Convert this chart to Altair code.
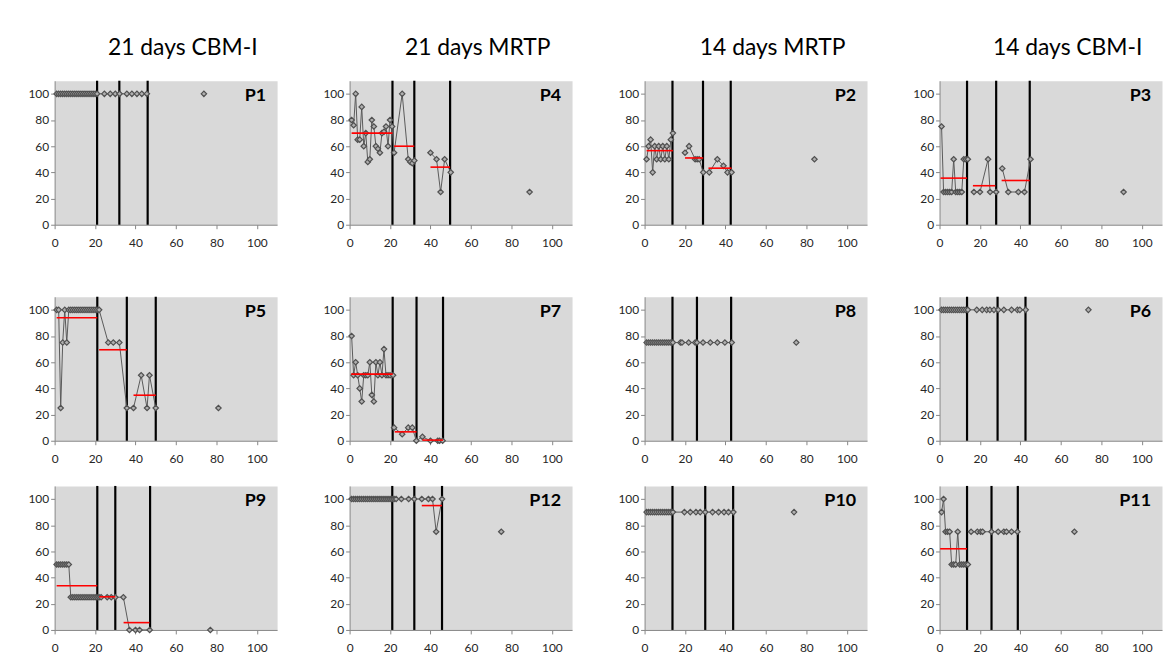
import altair as alt
import pandas as pd

# ---------------- data ----------------
COL_TITLES = ["21 days CBM-I", "21 days MRTP", "14 days MRTP", "14 days CBM-I"]
GRID = [["P1", "P4", "P2", "P3"], ["P5", "P7", "P8", "P6"], ["P9", "P12", "P10", "P11"]]

P1_X = [1, 2, 3, 4, 5, 6, 7, 8, 9, 10, 11, 12, 13, 14, 15, 16, 17, 18, 19, 20, 21,
        24.6, 27.5, 30, 32.1, 35.7, 38.2, 40.7, 43.1, 45.6, 73.8]
P1_Y = [100, 100, 100, 100, 100, 100, 100, 100, 100, 100, 100, 100, 100, 100, 100, 100,
        100, 100, 100, 100, 100, 100, 100, 100, 100, 100, 100, 100, 100, 100, 100]
P1_BREAKS = [30]
P1_VLINES = [21, 32, 46]
P1_MEANS = []

P4_X = [1, 2, 3, 4, 5, 6, 7, 8, 9, 10, 11, 12, 13, 14, 15, 16, 17, 18, 19, 20, 21, 22,
        26, 29, 30, 31, 32, 40, 43, 45, 47, 50, 89]
P4_Y = [80, 76, 100, 65, 65, 90, 60, 70, 48, 50, 80, 75, 60, 58, 55, 70, 71, 75, 60, 80,
        75, 55, 100, 50, 48, 47, 49, 55, 50, 25, 50, 40, 25]
P4_BREAKS = [27, 32]
P4_VLINES = [21.2, 32, 49.7]
P4_MEANS = [(1, 21.2, 70), (22, 32, 60), (40, 49.7, 44)]

P2_X = [1, 2, 3, 4, 5, 6, 7, 8, 9, 10, 11, 12, 13, 14, 20, 22, 25, 26, 27, 29,
        32, 36, 39, 41, 43, 84]
P2_Y = [50, 60, 65, 40, 60, 50, 60, 50, 60, 50, 60, 50, 65, 70, 55, 60, 50, 50, 50, 40,
        40, 50, 45, 40, 40, 50]
P2_BREAKS = [14, 25]
P2_VLINES = [13.8, 28.9, 42.6]
P2_MEANS = [(1, 14, 56.6), (20, 29, 51), (31.6, 43, 43.2)]

P3_X = [1, 2, 3, 4, 5, 6, 7, 8, 9, 10, 11, 12, 13, 14, 17, 20, 24, 25, 28,
        31, 34, 39, 42, 45, 91]
P3_Y = [75, 25, 25, 25, 25, 25, 50, 25, 25, 25, 25, 50, 50, 50, 25, 25, 50, 25, 25,
        43, 25, 25, 25, 50, 25]
P3_BREAKS = [14, 19, 24]
P3_VLINES = [13.6, 28, 44.6]
P3_MEANS = [(0.5, 13.6, 35.6), (16.5, 27.6, 29.8), (30.7, 44.6, 33.8)]

P5_X = [1, 2, 3, 4, 5, 6, 7, 8, 9, 10, 11, 12, 13, 14, 15, 16, 17, 18, 19, 20, 21, 22,
        26.5, 29, 32, 35.7, 39, 42.8, 45.7, 46.9, 50, 81]
P5_Y = [100, 100, 25, 75, 100, 75, 100, 100, 100, 100, 100, 100, 100, 100, 100, 100,
        100, 100, 100, 100, 100, 100, 75, 75, 75, 25, 25, 50, 25, 50, 25, 25]
P5_BREAKS = [31]
P5_VLINES = [21.1, 35.7, 50]
P5_MEANS = [(1, 21.1, 94), (22, 35.7, 69.5), (39, 50, 34.8)]

P7_X = [1, 2, 3, 4, 5, 6, 7, 8, 9, 10, 11, 12, 13, 14, 15, 16, 17, 18, 19, 20, 21.5,
        22, 26, 29, 31, 33, 36, 40, 43.6, 44.5, 46]
P7_Y = [80, 50, 60, 50, 40, 30, 50, 50, 50, 60, 35, 30, 60, 50, 60, 50, 70, 50, 50, 50, 50,
        10, 5, 10, 10, 0, 3, 0, 0, 0, 0]
P7_BREAKS = [21]
P7_VLINES = [21.3, 33.1, 46.2]
P7_MEANS = [(0.8, 21.3, 50.9), (22.3, 33.1, 6.8), (36, 46.2, 0.5)]

P8_X = [1, 2, 3, 4, 5, 6, 7, 8, 9, 10, 11, 12, 13, 14, 17.7, 18.5, 21.8, 25, 25.9,
        28.9, 32.5, 36, 39.7, 43.1, 75]
P8_Y = [75, 75, 75, 75, 75, 75, 75, 75, 75, 75, 75, 75, 75, 75, 75, 75, 75, 75, 75,
        75, 75, 75, 75, 75, 75]
P8_BREAKS = [24]
P8_VLINES = [13.8, 25.9, 42.8]
P8_MEANS = []

P6_X = [1, 2, 3, 4, 5, 6, 7, 8, 9, 10, 11, 12, 13, 14, 18.4, 21.1, 23.3, 24.9, 26.9,
        29, 31.8, 35.6, 38.5, 39.7, 42.6, 73.6]
P6_Y = [100, 100, 100, 100, 100, 100, 100, 100, 100, 100, 100, 100, 100, 100, 100, 100,
        100, 100, 100, 100, 100, 100, 100, 100, 100, 100]
P6_BREAKS = [25]
P6_VLINES = [13.6, 28.7, 42.5]
P6_MEANS = []

P9_X = [1, 2, 3, 4, 5, 6, 7, 8, 9, 10, 11, 12, 13, 14, 15, 16, 17, 18, 19, 20, 21,
        22, 23, 26, 28, 30, 34, 37, 40, 42, 47, 77]
P9_Y = [50, 50, 50, 50, 50, 50, 50, 25, 25, 25, 25, 25, 25, 25, 25, 25, 25, 25, 25, 25, 25,
        25, 25, 25, 25, 25, 25, 0, 0, 0, 0, 0]
P9_BREAKS = [31]
P9_VLINES = [21.1, 30, 47.2]
P9_MEANS = [(1, 21.1, 33.8), (22.1, 30, 25.3), (34.1, 46.9, 5.6)]

P12_X = [1, 2, 3, 4, 5, 6, 7, 8, 9, 10, 11, 12, 13, 14, 15, 16, 17, 18, 19, 20, 21,
         22, 23, 25.6, 29.2, 32, 35.7, 39, 41, 42.8, 45.7, 75]
P12_Y = [100, 100, 100, 100, 100, 100, 100, 100, 100, 100, 100, 100, 100, 100, 100, 100,
         100, 100, 100, 100, 100, 100, 100, 100, 100, 100, 100, 100, 100, 75, 100, 75]
P12_BREAKS = [31]
P12_VLINES = [21.1, 32, 45.7]
P12_MEANS = [(35.7, 45.7, 95)]

P10_X = [1, 2, 3, 4, 5, 6, 7, 8, 9, 10, 11, 12, 13, 14, 19.7, 22.6, 25.4, 27.5, 30,
         33.6, 36.6, 39.3, 41.5, 43.9, 73.9]
P10_Y = [90, 90, 90, 90, 90, 90, 90, 90, 90, 90, 90, 90, 90, 90, 90, 90, 90, 90, 90,
         90, 90, 90, 90, 90, 90]
P10_BREAKS = [24]
P10_VLINES = [13.8, 30, 43.8]
P10_MEANS = []

P11_X = [1, 2, 3, 4, 5, 6, 7, 8, 9, 10, 11, 12, 13, 14, 15.6, 18.7, 20.3, 21.3, 25.7,
         29, 31.8, 33.1, 35.6, 38.5, 66.7]
P11_Y = [90, 100, 75, 75, 75, 50, 50, 50, 75, 50, 50, 50, 50, 50, 75, 75, 75, 75, 75,
         75, 75, 75, 75, 75, 75]
P11_BREAKS = [14, 24]
P11_VLINES = [13.6, 25.7, 38.7]
P11_MEANS = [(0.3, 13.6, 62)]

PANELS = {
    "P1": (P1_X, P1_Y, P1_BREAKS, P1_VLINES, P1_MEANS),
    "P4": (P4_X, P4_Y, P4_BREAKS, P4_VLINES, P4_MEANS),
    "P2": (P2_X, P2_Y, P2_BREAKS, P2_VLINES, P2_MEANS),
    "P3": (P3_X, P3_Y, P3_BREAKS, P3_VLINES, P3_MEANS),
    "P5": (P5_X, P5_Y, P5_BREAKS, P5_VLINES, P5_MEANS),
    "P7": (P7_X, P7_Y, P7_BREAKS, P7_VLINES, P7_MEANS),
    "P8": (P8_X, P8_Y, P8_BREAKS, P8_VLINES, P8_MEANS),
    "P6": (P6_X, P6_Y, P6_BREAKS, P6_VLINES, P6_MEANS),
    "P9": (P9_X, P9_Y, P9_BREAKS, P9_VLINES, P9_MEANS),
    "P12": (P12_X, P12_Y, P12_BREAKS, P12_VLINES, P12_MEANS),
    "P10": (P10_X, P10_Y, P10_BREAKS, P10_VLINES, P10_MEANS),
    "P11": (P11_X, P11_Y, P11_BREAKS, P11_VLINES, P11_MEANS),
}
TICKS = [0, 20, 40, 60, 80, 100]

# ---------------- style ----------------
W, H = 224, 145
FONT = "Lato"
AXIS_GRAY = "#868686"
LABEL_COLOR = "#262626"

XAXIS = alt.Axis(values=TICKS, title=None, grid=False, tickSize=4, labelPadding=9,
                 domainColor=AXIS_GRAY, tickColor=AXIS_GRAY, labelColor=LABEL_COLOR,
                 labelFont=FONT, labelFontSize=12, labelFlush=False,
                 minExtent=30, maxExtent=30)
YAXIS = alt.Axis(values=TICKS, title=None, grid=False, tickSize=4, labelPadding=2,
                 domainColor=AXIS_GRAY, tickColor=AXIS_GRAY, labelColor=LABEL_COLOR,
                 labelFont=FONT, labelFontSize=12, minExtent=30, maxExtent=30)


def xenc(field="x"):
    return alt.X(f"{field}:Q", scale=alt.Scale(domain=[0, 110], nice=False, zero=False), axis=XAXIS)


def yenc(field="y"):
    return alt.Y(f"{field}:Q", scale=alt.Scale(domain=[0, 110], nice=False, zero=False), axis=YAXIS)


def panel(name, title=None):
    xs, ys, breaks, vlines, means = PANELS[name]
    seg, s = [], 0
    for i in range(len(xs)):
        if i in breaks:
            s += 1
        seg.append(s)
    pts = pd.DataFrame({"x": xs, "y": ys, "seg": seg})
    layers = []
    layers.append(
        alt.Chart(pd.DataFrame({"x": vlines})).mark_rule(color="black", strokeWidth=2.2)
        .encode(x=xenc(), y=alt.value(0), y2=alt.value(H))
    )
    layers.append(
        alt.Chart(pts).mark_line(color="#5a5a5a", strokeWidth=1)
        .encode(x=xenc(), y=yenc(), detail="seg:N")
    )
    layers.append(
        alt.Chart(pts).mark_point(shape="diamond", filled=True, size=30, fill="#b0b0b0",
                                  stroke="#505050", strokeWidth=1.2, opacity=1)
        .encode(x=xenc(), y=yenc())
    )
    if means:
        mdf = pd.DataFrame(means, columns=["x", "x2", "y"])
        layers.append(
            alt.Chart(mdf).mark_rule(color="#ff0000", strokeWidth=1.6)
            .encode(x=xenc(), x2="x2:Q", y=yenc())
        )
    layers.append(
        alt.Chart(pd.DataFrame({"t": [name]})).mark_text(
            font=FONT, fontSize=18, fontWeight="bold", align="right",
            baseline="alphabetic", color="black")
        .encode(text="t:N", x=alt.value(W - 11), y=alt.value(20.5))
    )
    if title:
        layers.append(
            alt.Chart(pd.DataFrame({"t": [title]})).mark_text(
                font=FONT, fontSize=23, align="center", baseline="middle", color="black")
            .encode(text="t:N", x=alt.value(W / 2 + 17), y=alt.value(-33))
        )
    return alt.layer(*layers).properties(width=W, height=H)


rows = []
for r, names in enumerate(GRID):
    cells = [panel(n, COL_TITLES[c] if r == 0 else None) for c, n in enumerate(names)]
    rows.append(alt.hconcat(*cells, spacing=41))

chart = alt.vconcat(rows[0], alt.vconcat(rows[1], rows[2], spacing=12.5), spacing=39.5).properties(
    padding={"left": 24, "top": 34, "right": 0, "bottom": 0},
    background="white",
).configure_view(fill="#D9D9D9", stroke="transparent")

chart.save("out.html", embed_options={"renderer": "svg", "actions": False})
